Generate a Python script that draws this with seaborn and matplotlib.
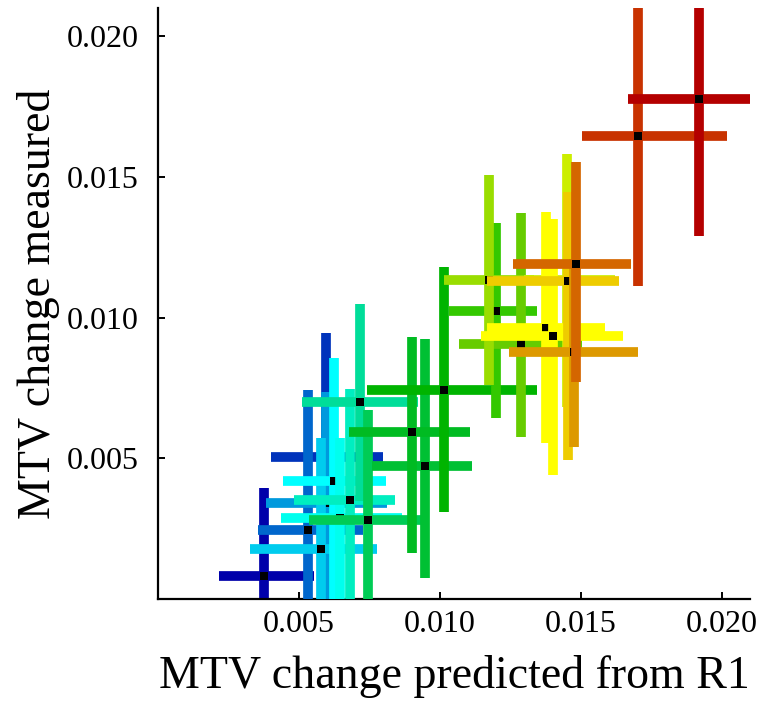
#!/usr/bin/env python3
"""Predicted vs measured MTV change, one coloured cross per item."""
import matplotlib
matplotlib.use("Agg")
import matplotlib.pyplot as plt
import seaborn as sns
import numpy as np

# centre of each cross and the ends of its two bars
x_pred = [0.00375, 0.00596, 0.00532, 0.00596, 0.00577, 0.00624, 0.00646, 0.00681,
          0.00717, 0.00746, 0.00948, 0.00902, 0.01014, 0.01198, 0.01289, 0.01174,
          0.01451, 0.01376, 0.01401, 0.01455, 0.01476, 0.01483, 0.01702, 0.01920]
x_lo = [0.00216, 0.00401, 0.00355, 0.00383, 0.00326, 0.00443, 0.00436, 0.00482,
        0.00511, 0.00536, 0.00759, 0.00677, 0.00741, 0.01032, 0.01068, 0.01015,
        0.01298, 0.01167, 0.01146, 0.01167, 0.01245, 0.01259, 0.01504, 0.01667]
x_hi = [0.00553, 0.00798, 0.00727, 0.00812, 0.00777, 0.00809, 0.00865, 0.00841,
        0.00922, 0.00958, 0.01114, 0.01107, 0.01344, 0.01344, 0.01504, 0.01334,
        0.01621, 0.01586, 0.01649, 0.01635, 0.01703, 0.01678, 0.02018, 0.02171]
y_meas = [0.00082, 0.00506, 0.00245, 0.00343, 0.00178, 0.00421, 0.00287, 0.00352,
          0.00699, 0.00281, 0.00473, 0.00595, 0.00744, 0.01025, 0.00907, 0.01132,
          0.01132, 0.00963, 0.00936, 0.01129, 0.00876, 0.01191, 0.01644, 0.01778]
y_lo = [-0.00230, 0.00065, -0.00250, -0.00050, -0.00220, -0.00020, 0.00000, -0.00040,
        0.00349, -0.00110, 0.00075, 0.00164, 0.00310, 0.00644, 0.00577, 0.00762,
        0.00683, 0.00556, 0.00441, 0.00495, 0.00541, 0.00770, 0.01112, 0.01289]
y_hi = [0.00395, 0.00947, 0.00744, 0.00737, 0.00573, 0.00858, 0.00573, 0.00747,
        0.01050, 0.00670, 0.00925, 0.00932, 0.01179, 0.01335, 0.01370, 0.01505,
        0.01580, 0.01377, 0.01352, 0.01445, 0.01210, 0.01553, 0.02150, 0.02150]
colors = ["#0000AA", "#0033BB", "#0066CC", "#0099DD", "#00CCEE", "#00FFFF",
          "#00FFEE", "#00EEC0", "#00DD99", "#00CC55", "#00C033", "#00BB22",
          "#00B400", "#33C800", "#66CC00", "#99DD00", "#CCEE00", "#FFFF00",
          "#FFFF00", "#EECC00", "#DD9900", "#D46600", "#C83200", "#B40000"]
x_ticks = [0.005, 0.010, 0.015, 0.020]
tick_labels = ["0.005", "0.010", "0.015", "0.020"]

sns.set_style("ticks")
plt.rcParams["font.family"] = ["Liberation Serif", "DejaVu Serif"]
plt.rcParams["text.color"] = "black"
plt.rcParams["axes.labelcolor"] = "black"

fig = plt.figure(figsize=(7.62, 7.04), dpi=100)
ax = fig.add_axes([0.2073, 0.1491, 0.7769, 0.8395])

# draw one cross at a time so later crosses sit on top of earlier ones
for i in range(len(x_pred)):
    xe = [[x_pred[i] - x_lo[i]], [x_hi[i] - x_pred[i]]]
    ye = [[y_meas[i] - y_lo[i]], [y_hi[i] - y_meas[i]]]
    eb = ax.errorbar([x_pred[i]], [y_meas[i]], xerr=xe, yerr=ye, fmt="s",
                     ms=5.8, mfc="black", mec="black", mew=0,
                     ecolor=colors[i], elinewidth=7.0, capsize=0, zorder=2 + i)
    for lc in eb[2]:
        lc.set_capstyle("butt")

ax.set_xlim(0, 0.021)
ax.set_ylim(0, 0.021)
ax.set_xticks(x_ticks)
ax.set_xticklabels(tick_labels)
ax.set_yticks(x_ticks)
ax.set_yticklabels(tick_labels)
ax.tick_params(direction="in", length=5, width=1.4, labelsize=23,
               colors="black", labelcolor="black")
ax.tick_params(axis="x", pad=8)
ax.tick_params(axis="y", pad=14)
for side in ["left", "bottom"]:
    ax.spines[side].set_linewidth(1.6)
    ax.spines[side].set_color("black")
sns.despine(ax=ax)

ax.set_xlabel("MTV change predicted from R1", fontsize=33, color="black")
ax.set_ylabel("MTV change measured", fontsize=33, color="black")
ax.xaxis.set_label_coords(0.5, -0.095)
ax.yaxis.set_label_coords(-0.165, 0.5)

fig.savefig("out.png", dpi=100)
